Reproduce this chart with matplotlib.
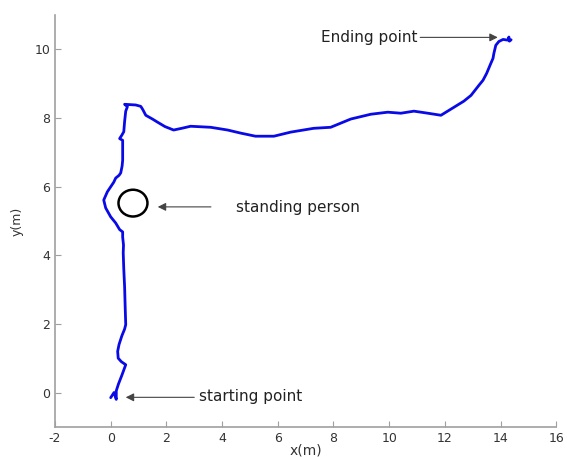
import numpy as np
import matplotlib
matplotlib.use('Agg')
import matplotlib.pyplot as plt
from matplotlib.patches import Ellipse

plt.rcParams['axes.unicode_minus'] = False

# robot trajectory (m)
path_x = [0.0, 0.12, 0.2, 0.2, 0.28, 0.4, 0.54, 0.38, 0.27, 0.25, 0.3, 0.4, 0.5,
          0.54, 0.52, 0.5, 0.47, 0.45, 0.46, 0.43, 0.43, 0.32, 0.18, 0.0, -0.18,
          -0.25, -0.12, 0.11, 0.18, 0.3, 0.36, 0.41, 0.43, 0.43, 0.32, 0.4, 0.47,
          0.5, 0.54, 0.6, 0.5, 0.9, 1.08, 1.15, 1.26, 1.5, 1.68, 1.95, 2.26, 2.55,
          2.87, 3.59, 4.2, 4.67, 5.2, 5.86, 6.47, 7.29, 7.9, 8.62, 9.34, 9.95,
          10.42, 10.89, 11.39, 11.86, 12.32, 12.68, 12.94, 13.22, 13.37, 13.5,
          13.65, 13.73, 13.76, 13.83, 13.94, 14.09, 14.26, 14.3, 14.32, 14.38]
path_y = [-0.15, 0.0, -0.2, 0.05, 0.25, 0.5, 0.81, 0.9, 1.0, 1.2, 1.4, 1.65, 1.85,
          1.98, 2.5, 3.08, 3.6, 4.07, 4.3, 4.53, 4.68, 4.75, 4.94, 5.12, 5.38,
          5.61, 5.85, 6.13, 6.25, 6.33, 6.4, 6.6, 6.77, 7.35, 7.4, 7.5, 7.6,
          7.9, 8.2, 8.33, 8.4, 8.38, 8.34, 8.25, 8.08, 7.97, 7.88, 7.75, 7.65, 7.7,
          7.76, 7.73, 7.65, 7.56, 7.47, 7.47, 7.59, 7.7, 7.73, 7.97, 8.11, 8.17,
          8.14, 8.2, 8.14, 8.08, 8.31, 8.49, 8.66, 8.95, 9.1, 9.3,
          9.59, 9.74, 9.88, 10.12, 10.23, 10.29, 10.27, 10.36, 10.24, 10.28]

person_x, person_y = 0.8, 5.52
x_ticks = [-2, 0, 2, 4, 6, 8, 10, 12, 14, 16]
y_ticks = [0, 2, 4, 6, 8, 10]

fig = plt.figure(figsize=(5.67, 4.57), dpi=100)
ax = fig.add_axes([0.097, 0.066, 0.884, 0.901])

ax.plot(path_x, path_y, color='#0a0ae6', linewidth=2,
        solid_joinstyle='round', solid_capstyle='round')
ax.add_patch(Ellipse((person_x, person_y), 1.04, 0.78, fill=False,
                     edgecolor='black', linewidth=1.8))

arrow = dict(arrowstyle='-|>', color='#444444', linewidth=0.8,
             mutation_scale=12, shrinkA=0, shrinkB=0)
txt = dict(fontsize=11, color='#222222', va='center')

ax.annotate('Ending point', xy=(13.9, 10.35), xytext=(7.55, 10.35),
            arrowprops=arrow, **txt)
ax.annotate('', xy=(1.69, 5.41), xytext=(3.6, 5.41), arrowprops=arrow)
ax.text(4.49, 5.4, 'standing person', **txt)
ax.annotate('', xy=(0.54, -0.14), xytext=(3.0, -0.14), arrowprops=arrow)
ax.text(3.16, -0.12, 'starting point', **txt)

ax.set_xlim(-2, 16)
ax.set_ylim(-1, 11)
ax.set_xticks(x_ticks)
ax.set_yticks(y_ticks)
ax.spines['top'].set_visible(False)
ax.spines['right'].set_visible(False)
for s in ['left', 'bottom']:
    ax.spines[s].set_color('#a0a0a0')
    ax.spines[s].set_linewidth(1.2)
ax.tick_params(direction='in', length=4, color='#a0a0a0', labelcolor='#333333',
               labelsize=9)
ax.set_xlabel('x(m)', fontsize=10, color='#333333', labelpad=-1)
ax.set_ylabel('y(m)', fontsize=9, color='#333333', labelpad=8)

fig.savefig('out.png', dpi=100)
